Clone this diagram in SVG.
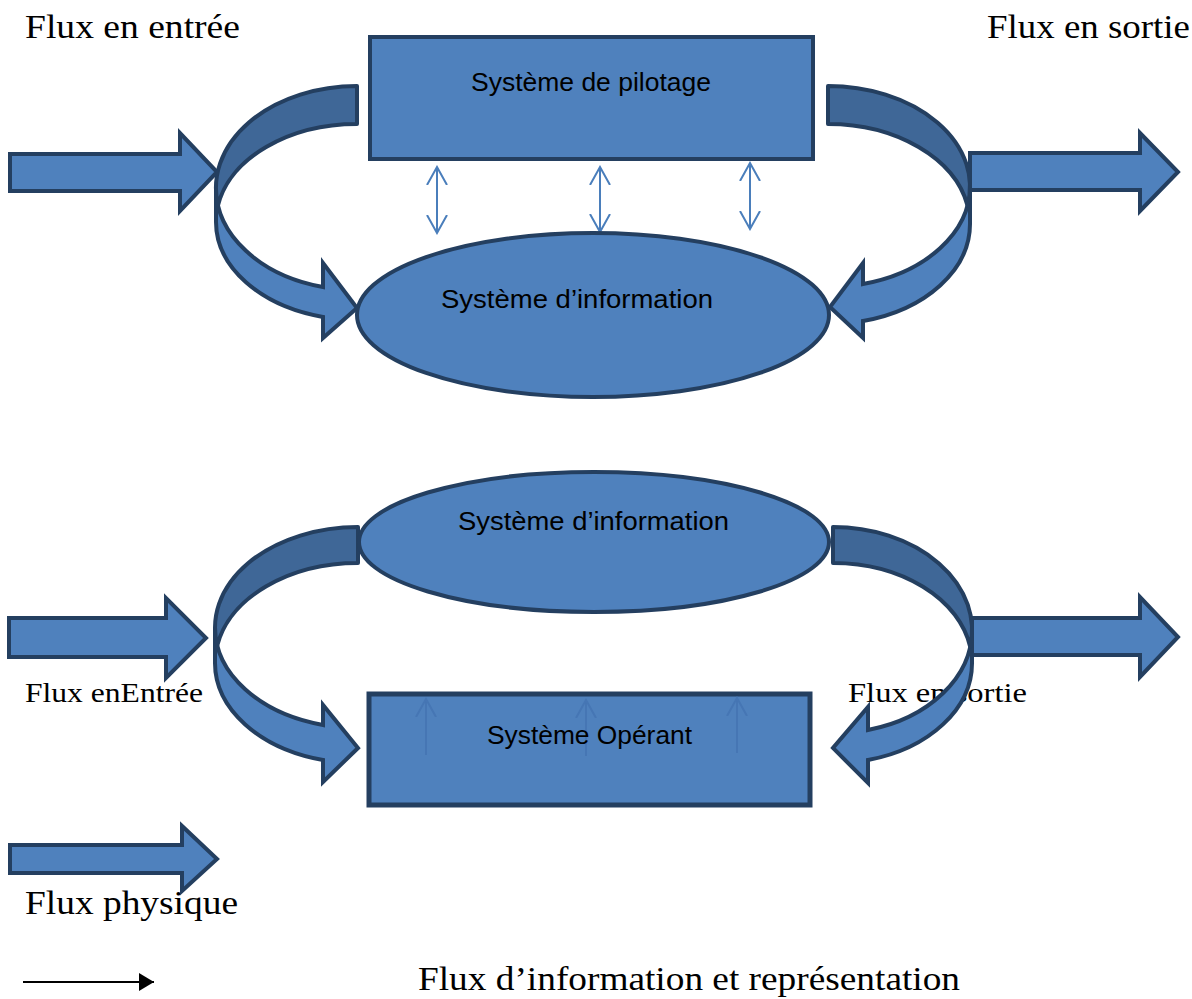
<svg xmlns="http://www.w3.org/2000/svg" width="1192" height="999" viewBox="0 0 1192 999">
<style>
.node{fill:#4f81bd;stroke:#243f60;stroke-width:4}
.band{fill:#3f6797;stroke:#243f60;stroke-width:4;stroke-linejoin:round}
.arr{fill:#4f81bd;stroke:#243f60;stroke-width:4;stroke-linejoin:miter}
.dbl{stroke:#4a7ebb;stroke-width:2;fill:none}
.ghost{stroke:#4676b4;stroke-width:2;fill:none}
.lbl{font-family:"Liberation Sans","Open Sans",Arial,sans-serif;font-size:26px;fill:#000;text-anchor:start}
.ser{font-family:"Liberation Serif","Times New Roman",serif;fill:#000}
</style>
<defs>
<marker id="chev" markerUnits="userSpaceOnUse" viewBox="0 0 20 24" markerWidth="20" markerHeight="24" refX="18" refY="12" orient="auto-start-reverse">
<path d="M0,2 L18,12 L0,22" fill="none" stroke="#4a7ebb" stroke-width="2"/>
</marker>
<marker id="chevg" markerUnits="userSpaceOnUse" viewBox="0 0 20 24" markerWidth="20" markerHeight="24" refX="18" refY="12" orient="auto">
<path d="M0,2 L18,12 L0,22" fill="none" stroke="#4676b4" stroke-width="2"/>
</marker>
<marker id="tri" markerUnits="userSpaceOnUse" viewBox="0 0 16 18" markerWidth="16" markerHeight="18" refX="15" refY="9" orient="auto">
<path d="M0,0 L15,9 L0,18 Z" fill="#000"/>
</marker>
</defs>

<!-- labels -->
<g id="labels">
<text class="ser" x="25" y="38" font-size="33" textLength="215" lengthAdjust="spacingAndGlyphs">Flux en entrée</text>
<text class="ser" x="987" y="38" font-size="33" textLength="203" lengthAdjust="spacingAndGlyphs">Flux en sortie</text>
<text class="ser" x="25" y="702" font-size="28" textLength="178" lengthAdjust="spacingAndGlyphs">Flux enEntrée</text>
<text class="ser" x="848" y="702" font-size="28" textLength="179" lengthAdjust="spacingAndGlyphs">Flux en sortie</text>
<text class="ser" x="25" y="914" font-size="33" textLength="213" lengthAdjust="spacingAndGlyphs">Flux physique</text>
<text class="ser" x="418" y="990" font-size="33" textLength="542" lengthAdjust="spacingAndGlyphs">Flux d’information et représentation</text>
</g>

<g id="connectors">
<!-- top straight arrows -->
<path class="arr" d="M10,154 L180,154 L180,133 L217,172 L180,211 L180,191 L10,191 Z"/>
<!-- top-left curved arrow -->
<path class="arr" d="M216,222 A141,98 0 0 0 323,317 L323,338 L357,308 L323,263 L323,287 A141,102 0 0 1 216,188 Z"/>
<path class="band" d="M357,86 A141,102 0 0 0 218,205.3 A141,98 0 0 1 357,124 Z"/>
<!-- top-right curved arrow -->
<path class="arr" d="M970,224 A142,100 0 0 1 863,321 L863,338 L830,307 L863,263 L863,284 A142,100.6 0 0 0 970,186.6 Z"/>
<path class="band" d="M828,86 A142,100.6 0 0 1 967.5,205.4 A142,100 0 0 0 828,124 Z"/>
<path class="arr" d="M970,153 L1140,153 L1140,133 L1178,172 L1140,211 L1140,190 L970,190 Z"/>
<!-- double arrows -->
<line class="dbl" x1="437" y1="167" x2="437" y2="233" marker-start="url(#chev)" marker-end="url(#chev)"/>
<line class="dbl" x1="600" y1="167" x2="600" y2="232" marker-start="url(#chev)" marker-end="url(#chev)"/>
<line class="dbl" x1="750" y1="163" x2="750" y2="229" marker-start="url(#chev)" marker-end="url(#chev)"/>
<!-- bottom straight arrows -->
<path class="arr" d="M9,618 L166,618 L166,598 L206,638 L166,678 L166,657 L9,657 Z"/>
<path class="arr" d="M972,618 L1140,618 L1140,597 L1178,637 L1140,677 L1140,655 L972,655 Z"/>
<!-- bottom-left curved arrow -->
<path class="arr" d="M215,663 A143,100 0 0 0 323,760 L323,782 L358,748 L323,705 L323,725 A143,100.5 0 0 1 215,627.5 Z"/>
<path class="band" d="M358,527 A143,100.5 0 0 0 217.3,645.3 A143,100 0 0 1 358,563 Z"/>
<!-- bottom-right curved arrow -->
<path class="arr" d="M972,663.1 A139,100.1 0 0 1 868,760 L868,783 L833,748 L868,707 L868,730 A139,103.2 0 0 0 972,630.2 Z"/>
<path class="band" d="M833,527 A139,103.2 0 0 1 970.2,646.9 A139,100.1 0 0 0 833,563 Z"/>
<!-- legend -->
<path class="arr" d="M10,845 L182,845 L182,826 L217,859 L182,891 L182,873 L10,873 Z"/>
<line x1="23" y1="982" x2="154" y2="982" stroke="#000" stroke-width="2" marker-end="url(#tri)"/>
</g>

<g id="pilotage">
<rect class="node" x="370" y="37" width="443" height="122"/>
<text class="lbl" x="471" y="91" textLength="240" lengthAdjust="spacingAndGlyphs">Système de pilotage</text>
</g>

<g id="info-top">
<ellipse class="node" cx="593" cy="315" rx="236" ry="82"/>
<text class="lbl" x="441" y="308" textLength="272" lengthAdjust="spacingAndGlyphs">Système d’information</text>
</g>

<g id="info-bottom">
<ellipse class="node" cx="594" cy="542" rx="235" ry="70"/>
<text class="lbl" x="458" y="530" textLength="271" lengthAdjust="spacingAndGlyphs">Système d’information</text>
</g>

<g id="operant">
<rect x="369" y="694" width="441" height="111" fill="#4f81bd" stroke="#243f60" stroke-width="5"/>
<line class="ghost" x1="426" y1="755" x2="426" y2="699" marker-end="url(#chevg)"/>
<line class="ghost" x1="586" y1="756" x2="586" y2="700" marker-end="url(#chevg)"/>
<line class="ghost" x1="737" y1="753" x2="737" y2="698" marker-end="url(#chevg)"/>
<text class="lbl" x="487" y="744" textLength="205" lengthAdjust="spacingAndGlyphs">Système Opérant</text>
</g>
</svg>
